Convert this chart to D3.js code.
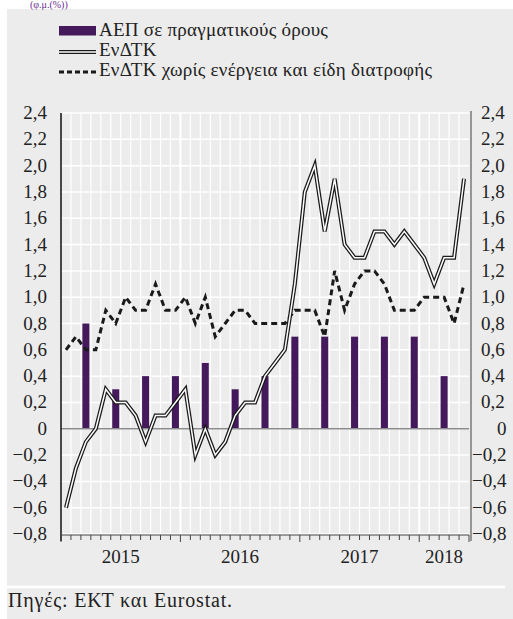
<!DOCTYPE html>
<html>
<head>
<meta charset="utf-8">
<script src="https://cdn.jsdelivr.net/npm/d3@7"></script>
<style>
  html, body { margin: 0; padding: 0; background: #fff; }
</style>
</head>
<body>
<div id="chart"></div>
<script>
// data
const years = ["2015", "2016", "2017", "2018"];
const monthsInYear = [12, 12, 12, 5];

// ΕνΔΤΚ, monthly from Jan 2015
const hicp = [-0.6, -0.3, -0.1, 0.0, 0.3, 0.2, 0.2, 0.1, -0.1, 0.1, 0.1, 0.2,
    0.3, -0.2, 0.0, -0.2, -0.1, 0.1, 0.2, 0.2, 0.4, 0.5, 0.6, 1.1,
    1.8, 2.0, 1.5, 1.9, 1.4, 1.3, 1.3, 1.5, 1.5, 1.4, 1.5, 1.4,
    1.3, 1.1, 1.3, 1.3, 1.9];

// ΕνΔΤΚ χωρίς ενέργεια και είδη διατροφής
const core = [0.6, 0.7, 0.6, 0.6, 0.9, 0.8, 1.0, 0.9, 0.9, 1.1, 0.9, 0.9,
    1.0, 0.8, 1.0, 0.7, 0.8, 0.9, 0.9, 0.8, 0.8, 0.8, 0.8, 0.9,
    0.9, 0.9, 0.7, 1.2, 0.9, 1.1, 1.2, 1.2, 1.1, 0.9, 0.9, 0.9,
    1.0, 1.0, 1.0, 0.8, 1.1];

// ΑΕΠ, quarterly (plotted at last month of quarter)
const gdpQuarters = ["2015Q1", "2015Q2", "2015Q3", "2015Q4", "2016Q1", "2016Q2", "2016Q3", "2016Q4",
    "2017Q1", "2017Q2", "2017Q3", "2017Q4", "2018Q1"];
const gdp = [0.8, 0.3, 0.4, 0.4, 0.5, 0.3, 0.4, 0.7, 0.7, 0.7, 0.7, 0.7, 0.4];

const yTicks = [-0.8, -0.6, -0.4, -0.2, 0, 0.2, 0.4, 0.6, 0.8, 1.0, 1.2, 1.4, 1.6, 1.8, 2.0, 2.2, 2.4];

const legendItems = ["ΑΕΠ σε πραγματικούς όρους", "ΕνΔΤΚ", "ΕνΔΤΚ χωρίς ενέργεια και είδη διατροφής"];
const subtitle = "(φ.μ.(%))";
const sourceText = "Πηγές: ΕΚΤ και Eurostat.";

const width = 513;
const height = 619;
const marginLeft = 61;
const plotRight = 469;
const plotTop = 113;
const plotBottom = 534;

const purple = "#451a5c";
const bg = "#ececec";
const serif = "'Liberation Serif', 'Times New Roman', 'DejaVu Serif', serif";

const nMonths = d3.sum(monthsInYear);

const svg = d3.select("#chart")
    .append("svg")
    .attr("width", width)
    .attr("height", height)
    .attr("viewBox", [0, 0, width, height])
    .attr("font-family", serif);

// panel background
svg.append("rect")
    .attr("x", 7).attr("y", 9)
    .attr("width", width - 7).attr("height", height - 9)
    .attr("fill", bg);

// subtitle, mostly hidden above the panel in the original
svg.append("text")
    .attr("x", 30).attr("y", 8)
    .attr("fill", "#6a2c91")
    .attr("font-size", 10)
    .text(subtitle);

const x = d3.scaleLinear([0, nMonths], [marginLeft, plotRight]);
const y = d3.scaleLinear([-0.8, 2.4], [plotBottom, plotTop]);

const fmt = v => v === 0 ? "0" : d3.format(".1f")(v).replace(".", ",");

// grid
const grid = svg.append("g");
grid.selectAll(".hgrid")
    .data(yTicks)
    .join("line")
    .attr("x1", marginLeft).attr("x2", plotRight)
    .attr("y1", d => y(d)).attr("y2", d => y(d))
    .attr("stroke", "#fff")
    .attr("stroke-width", 1.5);

const yearStarts = d3.cumsum([0, ...monthsInYear.slice(0, -1)]);
grid.selectAll(".vgrid")
    .data(d3.range(1, nMonths))
    .join("line")
    .attr("x1", d => x(d)).attr("x2", d => x(d))
    .attr("y1", plotTop).attr("y2", plotBottom)
    .attr("stroke", "#fff")
    .attr("stroke-width", d => yearStarts.includes(d) ? 2.2 : 1.2);

// bars
const gdpIndex = gdpQuarters.map(q => {
    const yi = years.indexOf(q.slice(0, 4));
    return yearStarts[yi] + (+q.slice(5)) * 3 - 1;
});
const barW = 7;
svg.append("g")
    .selectAll("rect")
    .data(gdp)
    .join("rect")
    .attr("x", (d, i) => x(gdpIndex[i] + 0.5) - barW / 2)
    .attr("width", barW)
    .attr("y", d => y(Math.max(0, d)))
    .attr("height", d => Math.abs(y(d) - y(0)))
    .attr("fill", purple);

// zero line
svg.append("line")
    .attr("x1", marginLeft).attr("x2", plotRight)
    .attr("y1", y(0)).attr("y2", y(0))
    .attr("stroke", "#8c8c8c")
    .attr("stroke-width", 1.6);

const line = d3.line()
    .x((d, i) => x(i + 0.5))
    .y(d => y(d));

// core (dashed)
svg.append("path")
    .datum(core)
    .attr("fill", "none")
    .attr("stroke", "#1a1a1a")
    .attr("stroke-width", 3)
    .attr("stroke-dasharray", "6,4")
    .attr("d", line);

// headline (double line)
svg.append("path")
    .datum(hicp)
    .attr("fill", "none")
    .attr("stroke", "#1a1a1a")
    .attr("stroke-width", 4)
    .attr("d", line);
svg.append("path")
    .datum(hicp)
    .attr("fill", "none")
    .attr("stroke", "#fff")
    .attr("stroke-width", 1.5)
    .attr("d", line);

// axes lines
svg.append("line")
    .attr("x1", marginLeft).attr("x2", marginLeft)
    .attr("y1", plotTop).attr("y2", plotBottom + 7)
    .attr("stroke", "#111").attr("stroke-width", 1.5);
svg.append("line")
    .attr("x1", plotRight + 2).attr("x2", plotRight + 2)
    .attr("y1", plotTop - 2).attr("y2", plotBottom + 7)
    .attr("stroke", "#7a7a7a").attr("stroke-width", 1.5);

// bottom ticks
const xAxis = svg.append("g");
xAxis.append("line")
    .attr("x1", marginLeft).attr("x2", plotRight)
    .attr("y1", plotBottom + 1).attr("y2", plotBottom + 1)
    .attr("stroke", "#444").attr("stroke-width", 1);
xAxis.selectAll(".tick")
    .data(d3.range(0, nMonths + 1))
    .join("line")
    .attr("x1", d => x(d)).attr("x2", d => x(d))
    .attr("y1", plotBottom + 1)
    .attr("y2", d => plotBottom + (yearStarts.includes(d) || d === nMonths ? 8 : 6))
    .attr("stroke", "#444").attr("stroke-width", 1);

xAxis.selectAll(".year")
    .data(years)
    .join("text")
    .attr("x", (d, i) => x(yearStarts[i] + monthsInYear[i] / 2))
    .attr("y", 563)
    .attr("text-anchor", "middle")
    .attr("fill", "#222")
    .attr("font-size", 19)
    .text(d => d);

// left labels
svg.append("g")
    .selectAll("text")
    .data(yTicks)
    .join("text")
    .attr("x", marginLeft - 14)
    .attr("y", d => y(d) + 6)
    .attr("text-anchor", "end")
    .attr("fill", "#222")
    .attr("font-size", 19)
    .text(fmt);

// right labels
svg.append("g")
    .selectAll("text")
    .data(yTicks)
    .join("text")
    .attr("x", d => d === 0 ? plotRight + 28 : d < 0 ? plotRight + 3 : plotRight + 12)
    .attr("y", d => y(d) + 6)
    .attr("fill", "#222")
    .attr("font-size", 19)
    .text(fmt);

// legend
const legend = svg.append("g").attr("transform", "translate(59,0)");
legend.append("rect")
    .attr("x", 0).attr("y", 26).attr("width", 37).attr("height", 9.5)
    .attr("fill", purple);
legend.append("line")
    .attr("x1", 0).attr("x2", 37).attr("y1", 52).attr("y2", 52)
    .attr("stroke", "#1a1a1a").attr("stroke-width", 4);
legend.append("line")
    .attr("x1", 0).attr("x2", 37).attr("y1", 52).attr("y2", 52)
    .attr("stroke", "#fff").attr("stroke-width", 1.5);
legend.append("line")
    .attr("x1", 0).attr("x2", 37).attr("y1", 72).attr("y2", 72)
    .attr("stroke", "#1a1a1a").attr("stroke-width", 3)
    .attr("stroke-dasharray", "5,3");
legend.selectAll("text")
    .data(legendItems)
    .join("text")
    .attr("x", 40)
    .attr("y", (d, i) => 36 + i * 20)
    .attr("fill", "#222")
    .attr("font-size", 19)
    .attr("letter-spacing", 0.25)
    .text(d => d);

// separator and source
svg.append("line")
    .attr("x1", 7).attr("x2", 505)
    .attr("y1", 587).attr("y2", 587)
    .attr("stroke", "#fff").attr("stroke-width", 2.5);
svg.append("text")
    .attr("x", 8).attr("y", 607)
    .attr("fill", "#222")
    .attr("font-size", 20)
    .attr("letter-spacing", 0.8)
    .text(sourceText);
</script>
</body>
</html>
